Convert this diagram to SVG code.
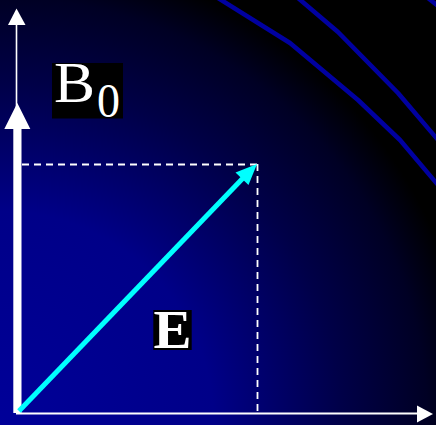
<svg xmlns="http://www.w3.org/2000/svg" width="436" height="425" viewBox="0 0 436 425">
<defs>
<radialGradient id="bg" gradientUnits="userSpaceOnUse" cx="0" cy="425" r="475">
<stop offset="0" stop-color="#000099"/>
<stop offset="0.45" stop-color="#000088"/>
<stop offset="0.72" stop-color="#000048"/>
<stop offset="0.9" stop-color="#000024"/>
<stop offset="1" stop-color="#000000"/>
</radialGradient>
<style>
.curve{fill:none;stroke:#0000a0;stroke-width:4.5;stroke-linejoin:round}
.dash{stroke:#ffffff;stroke-width:1.8;stroke-dasharray:7 5;fill:none}
.lbl{fill:#ffffff;font-family:"Liberation Serif","DejaVu Serif",serif}
</style>
</defs>
<rect x="0" y="0" width="436" height="425" fill="url(#bg)"/>
<g id="curves">
<polyline class="curve" points="218,-2 290,43 358,100 400,140 438,185"/>
<polyline class="curve" points="298,-2 338,32 398,93 438,140"/>
<polyline class="curve" points="428,-2 438,6"/>
</g>
<g id="connectors">
<line class="dash" x1="22" y1="164.5" x2="257" y2="164.5"/>
<line class="dash" x1="257.5" y1="164" x2="257.5" y2="412"/>
<line x1="16.5" y1="412" x2="16.5" y2="22" stroke="#ffffff" stroke-width="1.6"/>
<polygon points="16.5,8.5 25.5,25 8,25" fill="#ffffff"/>
<line x1="16" y1="413.5" x2="420" y2="413.5" stroke="#ffffff" stroke-width="1.8"/>
<polygon points="433,414 417,405.5 417,422.5" fill="#ffffff"/>
<rect x="13.3" y="125" width="8.2" height="288" fill="#ffffff"/>
<polygon points="17.3,103 30.3,129 4.3,129" fill="#ffffff"/>
<line x1="19" y1="411" x2="245" y2="176" stroke="#00ffff" stroke-width="5"/>
<polygon points="257,164 248.5,185 235.5,172.5" fill="#00ffff"/>
</g>
<g id="label-B0">
<rect x="52" y="63" width="71" height="55.5" fill="#000000"/>
<text class="lbl" x="54" y="102" font-size="57" textLength="41" lengthAdjust="spacingAndGlyphs">B</text>
<text class="lbl" x="97" y="117" font-size="49" textLength="23" lengthAdjust="spacingAndGlyphs">0</text>
</g>
<g id="label-E">
<rect x="153.3" y="310" width="38.4" height="40" fill="#000000"/>
<text class="lbl" x="153.5" y="348" font-size="54" font-weight="bold" textLength="38" lengthAdjust="spacingAndGlyphs">E</text>
</g>
</svg>
